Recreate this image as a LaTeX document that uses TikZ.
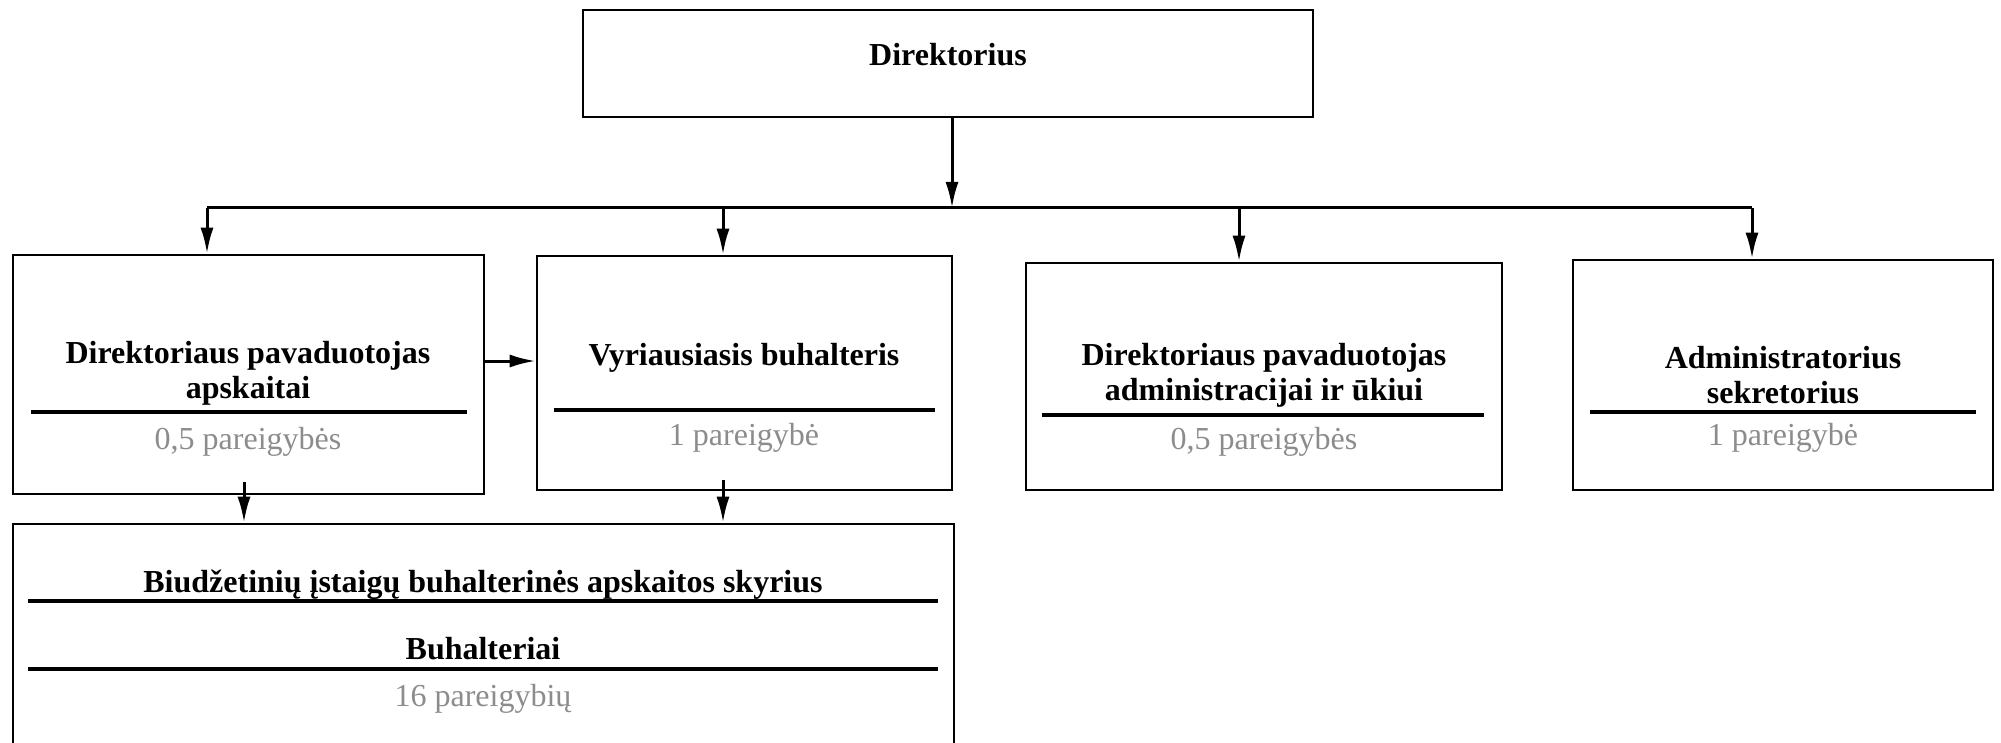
\documentclass[tikz,border=0pt]{standalone}
\usepackage{fontspec}
\setmainfont{Liberation Serif}
\usetikzlibrary{arrows.meta}
\definecolor{graytxt}{HTML}{8C8C8C}
\tikzset{
  box/.style={draw=black, line width=2.6pt, rectangle, inner sep=0pt},
  ttl/.style={font=\fontsize{32}{35}\selectfont\bfseries, align=center, inner sep=0pt},
  cnt/.style={font=\fontsize{32}{35}\selectfont, text=graytxt, inner sep=0pt},
  rule/.style={line width=3.6pt},
  conn/.style={line width=3pt},
  arr/.style={line width=3pt, -{Latex[length=26pt,width=13pt]}},
}
\begin{document}
\begin{tikzpicture}[x=1pt,y=-1pt]
\useasboundingbox (0,0) rectangle (2001,743);
% boxes
\node[box, minimum width=730pt, minimum height=107pt] (dir) at (948,63.5) {};
\node[box, minimum width=471pt, minimum height=239pt] (b1) at (248.5,374.5) {};
\node[box, minimum width=415pt, minimum height=234pt] (b2) at (744.5,373) {};
\node[box, minimum width=476pt, minimum height=227pt] (b3) at (1264,376.5) {};
\node[box, minimum width=420pt, minimum height=230pt] (b4) at (1783,375) {};
\node[box, minimum width=941pt, minimum height=226pt] (b5) at (483.5,637) {};
% texts
\node[ttl] (t0) at (948,55) {Direktorius};
\node[ttl] (t1) at (248,373) {Direktoriaus pavaduotojas\\apskaitai};
\node[cnt] (c1) at (248,442) {0,5 pareigybės};
\node[ttl] (t2) at (744,358) {Vyriausiasis buhalteris};
\node[cnt] (c2) at (744,438) {1 pareigybė};
\node[ttl] (t3) at (1264,375) {Direktoriaus pavaduotojas\\administracijai ir ūkiui};
\node[cnt] (c3) at (1264,442) {0,5 pareigybės};
\node[ttl] (t4) at (1783,375) {Administratorius\\sekretorius};
\node[cnt] (c4) at (1783,438) {1 pareigybė};
\node[ttl] (t5) at (483,585) {Biudžetinių įstaigų buhalterinės apskaitos skyrius};
\node[ttl] (t6) at (483,649) {Buhalteriai};
\node[cnt] (c5) at (483,699) {16 pareigybių};
% rules
\draw[rule] (31,412) -- (467,412);
\draw[rule] (554,410) -- (935,410);
\draw[rule] (1042,415) -- (1484,415);
\draw[rule] (1590,412) -- (1976,412);
\draw[rule] (28,601) -- (938,601);
\draw[rule] (28,669) -- (938,669);
% connectors
\coordinate (bus) at (952,208);
\coordinate (busL) at (207,208);
\coordinate (busR) at (1752,208);
\coordinate (bus2) at (723,208);
\coordinate (bus3) at (1239,208);
\draw[conn] (busL) -- (busR);
\draw[arr] (dir.south -| bus) -- (bus);
\draw[arr] (busL) -- (busL |- b1.north);
\draw[arr] (bus2) -- (bus2 |- b2.north);
\draw[arr] (bus3) -- (bus3 |- b3.north);
\draw[arr] (busR) -- (busR |- b4.north);
\draw[arr] (b1.east |- 0,361) -- (b2.west |- 0,361);
\coordinate (d1) at (244,482);
\coordinate (d2) at (723,480);
\draw[arr] (d1) -- (d1 |- b5.north);
\draw[arr] (d2) -- (d2 |- b5.north);
\end{tikzpicture}
\end{document}
